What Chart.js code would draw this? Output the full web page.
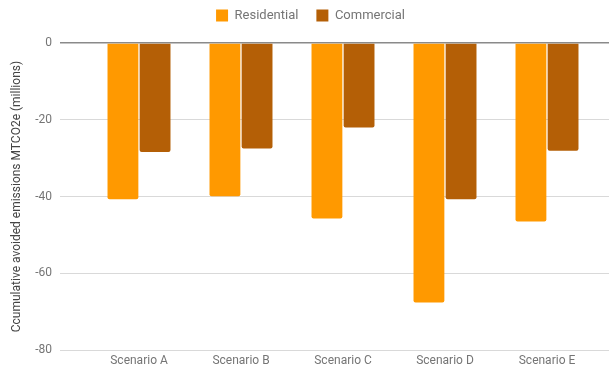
<!DOCTYPE html>
<html lang="en">
<head>
    <meta charset="UTF-8">
    <title>Cumulative avoided emissions</title>
    <script src="https://cdn.jsdelivr.net/npm/chart.js"></script>
    <style>
        * { margin: 0; padding: 0; box-sizing: border-box; }
        body { background: #fff; }
        .chart-box { width: 609px; height: 373px; }
    </style>
</head>
<body>
    <div class="chart-box">
        <canvas id="emissionsChart"></canvas>
    </div>

    <script>
        // Datos del grafico
        const scenarios = ['Scenario A', 'Scenario B', 'Scenario C', 'Scenario D', 'Scenario E'];
        const residential = [-40.7, -39.9, -45.7, -67.6, -46.5];
        const commercial = [-28.4, -27.5, -22.0, -40.7, -28.1];
        const yTicks = [0, -20, -40, -60, -80];

        Chart.defaults.font.family = 'Roboto, Arial, sans-serif';
        Chart.defaults.color = '#757575';

        // linea del cero mas oscura que las demas
        const gridColor = (ctx) => (ctx.tick && ctx.tick.value === 0) ? '#8a8a8a' : '#d9d9d9';
        const gridWidth = (ctx) => (ctx.tick && ctx.tick.value === 0) ? 1.5 : 1;

        // espacio extra entre la leyenda y el grafico
        const legendGap = {
            id: 'legendGap',
            beforeInit(chart) {
                const fit = chart.legend.fit;
                chart.legend.fit = function () {
                    fit.bind(chart.legend)();
                    this.height += 11;
                };
            }
        };

        const ctx = document.getElementById('emissionsChart').getContext('2d');
        const chart = new Chart(ctx, {
            type: 'bar',
            data: {
                labels: scenarios,
                datasets: [{
                    label: 'Residential',
                    data: residential,
                    backgroundColor: '#ff9900',
                    borderRadius: 2,
                    barPercentage: 0.96,
                    categoryPercentage: 0.63
                }, {
                    label: 'Commercial',
                    data: commercial,
                    backgroundColor: '#b45f06',
                    borderRadius: 2,
                    barPercentage: 0.96,
                    categoryPercentage: 0.63
                }]
            },
            plugins: [legendGap],
            options: {
                responsive: true,
                maintainAspectRatio: false,
                animation: false,
                layout: { padding: { top: -9, bottom: 8.5, right: 0, left: 12 } },
                plugins: {
                    tooltip: { enabled: false },
                    legend: {
                        position: 'top',
                        labels: {
                            boxWidth: 12,
                            boxHeight: 12,
                            padding: 18,
                            color: '#757575',
                            font: { size: 13 }
                        }
                    }
                },
                scales: {
                    x: {
                        grid: { display: false },
                        border: { display: false },
                        ticks: { color: '#757575', font: { size: 12 }, padding: -4 }
                    },
                    y: {
                        min: -80,
                        max: 0,
                        afterBuildTicks: (scale) => { scale.ticks = yTicks.map(v => ({ value: v })); },
                        afterFit: (scale) => { scale.width = 76; },
                        border: { display: false },
                        grid: { color: gridColor, tickColor: gridColor, lineWidth: gridWidth, tickLength: 28 },
                        ticks: { color: '#757575', font: { size: 12 }, padding: 8 },
                        title: {
                            display: true,
                            text: 'Ccumulative avoided emissions MTCO2e (millions)',
                            color: '#444',
                            font: { size: 12 },
                            padding: { top: -2, bottom: 0 }
                        }
                    },
                    // eje auxiliar: solo prolonga las lineas hasta el borde derecho
                    yRight: {
                        position: 'right',
                        min: -80,
                        max: 0,
                        afterBuildTicks: (scale) => { scale.ticks = yTicks.map(v => ({ value: v })); },
                        afterFit: (scale) => { scale.width = 11; },
                        border: { display: false },
                        grid: { drawOnChartArea: false, color: gridColor, tickColor: gridColor, lineWidth: gridWidth, tickLength: 11 },
                        ticks: { display: false }
                    }
                }
            }
        });
    </script>
</body>
</html>
